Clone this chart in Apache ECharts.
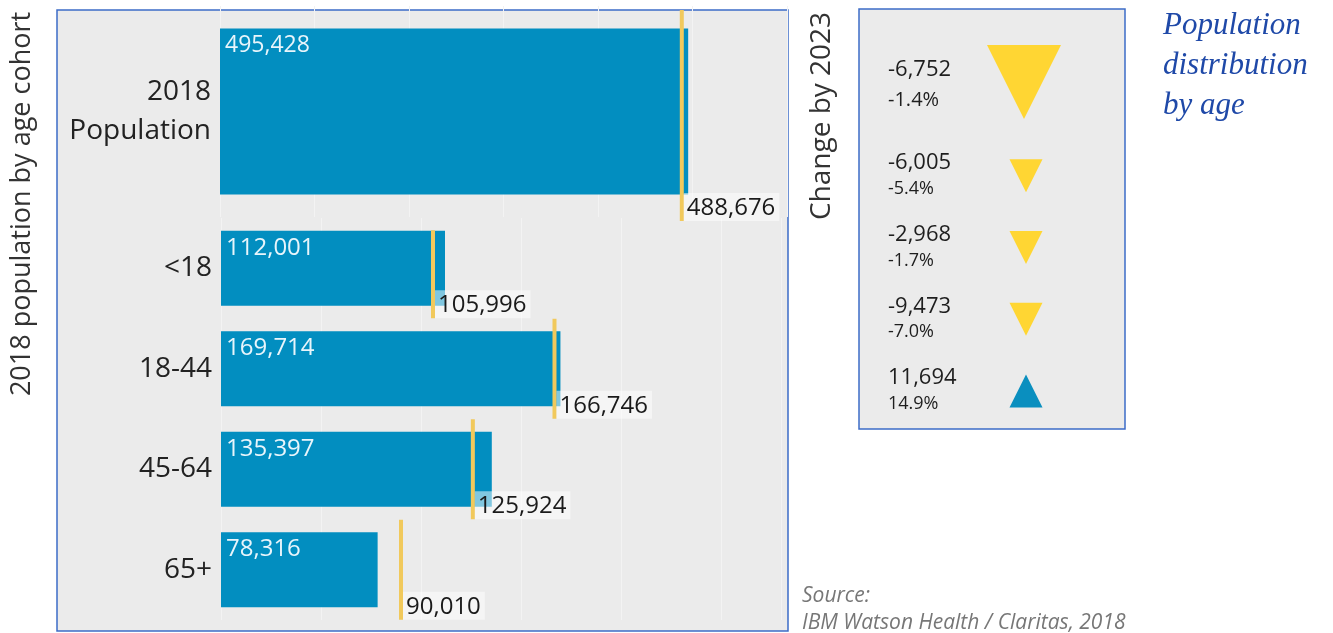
<!DOCTYPE html>
<html>
<head>
<meta charset="utf-8">
<script src="https://cdn.jsdelivr.net/npm/echarts@6/dist/echarts.min.js"></script>
<style>html,body{margin:0;padding:0;background:#fff;}#c{width:1333px;height:633px;}</style>
</head>
<body>
<div id="c"></div>
<script>
const categories = ['2018 Population', '<18', '18-44', '45-64', '65+'];
const pop2018 = [495428, 112001, 169714, 135397, 78316];
const pop2023 = [488676, 105996, 166746, 125924, 90010];
const change = [-6752, -6005, -2968, -9473, 11694];
const changePct = [-1.4, -5.4, -1.7, -7.0, 14.9];

const BLUE = '#028ec0', LINE = '#f1c95c', TRI_Y = '#ffd633', TRI_B = '#0a8fbf';
const FONT = '"Open Sans", "Noto Sans", sans-serif';
const fmt = v => (v < 0 ? '-' : '') + String(Math.abs(v)).replace(/\B(?=(\d{3})+(?!\d))/g, ',');

const chart = echarts.init(document.getElementById('c'), null, {renderer: 'canvas'});

const hiddenX = (grid, max, interval) => ({
  type: 'value', gridIndex: grid, min: 0, max: max, interval: interval,
  axisLabel: {show: false}, axisLine: {show: false}, axisTick: {show: false},
  splitLine: {show: true, lineStyle: {color: '#f3f3f3', width: 1}}
});
const catY = (grid, data) => ({
  type: 'category', gridIndex: grid, data: data, inverse: true,
  axisLine: {show: false}, axisTick: {show: false}, splitLine: {show: false},
  axisLabel: {fontFamily: FONT, fontSize: 28, lineHeight: 39, color: '#222', margin: 9,
    formatter: v => v.replace(' ', '\n')}
});
const outLabel = {
  show: true, position: ['100%', '100%'], align: 'left', verticalAlign: 'bottom',
  formatter: p => fmt(p.value[0]), fontFamily: FONT, fontSize: 24, color: '#1a1a1a',
  backgroundColor: 'rgba(255,255,255,0.5)', padding: [3, 4, 1, 3]
};
const inLabel = size => ({
  show: true, position: 'insideTopLeft', distance: 5, fontFamily: FONT, fontSize: size,
  color: '#e8f5fb', formatter: p => fmt(p.value)
});

const option = {
  animation: false,
  backgroundColor: '#ffffff',
  title: [
    {text: 'Population\ndistribution\nby age', left: 1158, top: 1,
     textStyle: {fontFamily: '"Liberation Serif", serif', fontStyle: 'italic', fontWeight: 'normal',
       fontSize: 31, lineHeight: 40, color: '#1f49a8'}},
    {text: 'Source:\nIBM Watson Health / Claritas, 2018', left: 797, top: 578,
     textStyle: {fontFamily: FONT, fontStyle: 'italic', fontWeight: 'normal',
       fontSize: 21, lineHeight: 27, color: '#777'}}
  ],
  graphic: [
    {type: 'rect', z: -10, shape: {x: 57, y: 10, width: 731, height: 621},
     style: {fill: '#ebebeb', stroke: '#3d6cc8', lineWidth: 1.5}},
    {type: 'rect', z: -10, shape: {x: 859, y: 9, width: 266, height: 420},
     style: {fill: '#ebebeb', stroke: '#3d6cc8', lineWidth: 1.5}},
    {type: 'text', x: 22, y: 204, rotation: Math.PI / 2,
     style: {text: '2018 population by age cohort', fontFamily: FONT, fontSize: 27,
       fill: '#333', textAlign: 'center', textVerticalAlign: 'middle'}},
    {type: 'text', x: 822, y: 116, rotation: Math.PI / 2,
     style: {text: 'Change by 2023', fontFamily: FONT, fontSize: 28,
       fill: '#333', textAlign: 'center', textVerticalAlign: 'middle'}}
  ],
  grid: [
    {left: 220, top: 6, width: 567, height: 211},
    {left: 221, top: 218, width: 560, height: 402},
    {left: 888, top: 68, width: 138, height: 359}
  ],
  xAxis: [
    hiddenX(0, 600000, 100000),
    hiddenX(1, 280000, 50000),
    {type: 'category', gridIndex: 2, data: ['text', 'mark'], boundaryGap: false, show: false}
  ],
  yAxis: [
    catY(0, categories.slice(0, 1)),
    catY(1, categories.slice(1)),
    Object.assign(catY(2, categories), {show: false})
  ],
  series: [
    {type: 'bar', xAxisIndex: 0, yAxisIndex: 0, data: pop2018.slice(0, 1), barWidth: 166,
     itemStyle: {color: BLUE}, label: inLabel(23)},
    {type: 'scatter', xAxisIndex: 0, yAxisIndex: 0,
     data: pop2023.slice(0, 1).map((v, i) => [v, categories[i]]),
     symbol: 'rect', symbolSize: [4, 211], symbolOffset: [0, 4], itemStyle: {color: LINE, opacity: 1},
     label: outLabel, z: 3},
    {type: 'bar', xAxisIndex: 1, yAxisIndex: 1, data: pop2018.slice(1), barWidth: 75,
     itemStyle: {color: BLUE}, label: inLabel(24)},
    {type: 'scatter', xAxisIndex: 1, yAxisIndex: 1,
     data: pop2023.slice(1).map((v, i) => (i === 0
       ? {value: [v, categories[i + 1]], symbolSize: [4, 88], symbolOffset: [0, 6]}
       : {value: [v, categories[i + 1]]})),
     symbol: 'rect', symbolSize: [4, 100], itemStyle: {color: LINE, opacity: 1},
     label: outLabel, z: 3},
    {type: 'scatter', xAxisIndex: 2, yAxisIndex: 2, symbolSize: 0,
     itemStyle: {opacity: 1, color: '#1e1e1e'},
     data: change.map((v, i) => ({
       value: ['text', categories[i]],
       label: i === 0 ? {offset: [0, -19]} : {}
     })),
     label: {show: true, position: 'right', distance: 0, align: 'left', color: '#1e1e1e',
       formatter: p => {
         const big = p.dataIndex === 0;
         return '{' + (big ? 'V' : 'v') + '|' + fmt(change[p.dataIndex]) + '}\n{' +
           (big ? 'P' : 'p') + '|' + changePct[p.dataIndex].toFixed(1) + '%}';
       },
       rich: {v: {fontFamily: FONT, fontSize: 22, color: '#1e1e1e', lineHeight: 26},
              p: {fontFamily: FONT, fontSize: 18, color: '#1e1e1e', lineHeight: 26},
              V: {fontFamily: FONT, fontSize: 22, color: '#1e1e1e', lineHeight: 31},
              P: {fontFamily: FONT, fontSize: 20, color: '#1e1e1e', lineHeight: 31}}}},
    {type: 'scatter', xAxisIndex: 2, yAxisIndex: 2, symbol: 'triangle',
     data: change.map((v, i) => ({
       value: ['mark', categories[i]],
       symbolSize: i === 0 ? [74, 74] : [33, 33],
       symbolOffset: i === 0 ? [-2, -22] : [0, 0],
       symbolRotate: v < 0 ? 180 : 0,
       itemStyle: {color: v < 0 ? TRI_Y : TRI_B, opacity: 1}
     }))}
  ]
};
chart.setOption(option);
</script>
</body>
</html>
